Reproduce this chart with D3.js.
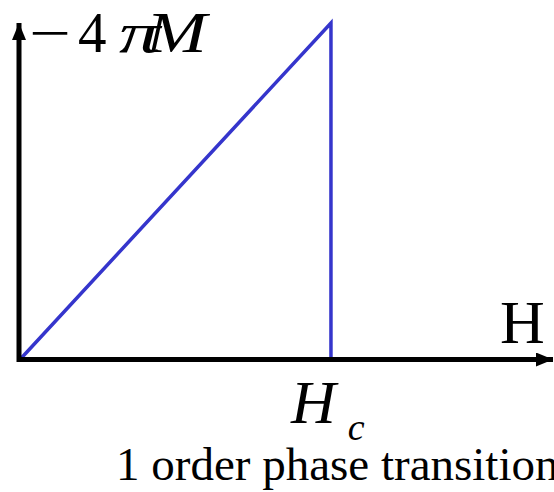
<!DOCTYPE html>
<html>
<head>
<meta charset="utf-8">
<script src="https://cdn.jsdelivr.net/npm/d3@7"></script>
<style>
  html, body { margin: 0; padding: 0; background: #fff; }
  svg { display: block; }
  text { font-family: "Liberation Serif", "Times New Roman", serif; fill: #000; }
</style>
</head>
<body>
<svg id="chart" width="554" height="492"></svg>
<script>
// Magnetisation curve of a type-I superconductor: -4πM rises linearly with H
// up to the critical field Hc, then drops to zero (first-order transition).
const fieldH = [0, 1, 1];          // H in units of Hc
const minus4piM = [0, 1, 0];       // -4πM in units of Hc
const xAxisMax = 1.714;            // axis arrow extends past Hc
const yAxisMax = 1.0;

const svg = d3.select("#chart");

const x = d3.scaleLinear().domain([0, xAxisMax]).range([20, 553]);
const y = d3.scaleLinear().domain([0, yAxisMax]).range([359.5, 23]);

// arrow markers for the two axes
const defs = svg.append("defs");
defs.append("marker")
  .attr("id", "arrow")
  .attr("viewBox", "0 0 17 14")
  .attr("refX", 17).attr("refY", 7)
  .attr("markerWidth", 17).attr("markerHeight", 14)
  .attr("markerUnits", "userSpaceOnUse")
  .attr("orient", "auto")
  .append("path")
  .attr("d", "M0,0 L17,7 L0,14 Z")
  .attr("fill", "#000");

// curve
const line = d3.line()
  .x((d, i) => x(fieldH[i]))
  .y((d, i) => y(minus4piM[i]));

svg.append("path")
  .datum(fieldH)
  .attr("d", line)
  .attr("fill", "none")
  .attr("stroke", "#3535cc")
  .attr("stroke-width", 3.5)
  .attr("stroke-linejoin", "miter");

// axes
svg.append("line")
  .attr("x1", x(0) - 1).attr("y1", y(0))
  .attr("x2", x(xAxisMax)).attr("y2", y(0))
  .attr("stroke", "#000").attr("stroke-width", 5)
  .attr("marker-end", "url(#arrow)");

svg.append("line")
  .attr("x1", x(0) - 1).attr("y1", y(0) + 2.5)
  .attr("x2", x(0) - 1).attr("y2", y(yAxisMax))
  .attr("stroke", "#000").attr("stroke-width", 5)
  .attr("marker-end", "url(#arrow)");

// y-axis label: -4πM, set glyph by glyph
const yLabelGlyphs = [
  { t: "\u2212", x: 29,  sx: 1.3, italic: false },
  { t: "4",      x: 78,  sx: 1.0, italic: false },
  { t: "\u03C0", x: 119, sx: 1.45, italic: true },
  { t: "M",      x: 146, sx: 1.28, italic: true }
];
svg.selectAll("text.ylab")
  .data(yLabelGlyphs)
  .join("text")
  .attr("class", "ylab")
  .attr("transform", d => `translate(${d.x},52) scale(${d.sx},1)`)
  .attr("font-size", 57)
  .attr("font-style", d => d.italic ? "italic" : "normal")
  .text(d => d.t);

// x-axis label: H
svg.append("text")
  .attr("x", 500).attr("y", 343)
  .attr("font-size", 62)
  .text("H");

// critical field label under the drop
const hc = svg.append("text")
  .attr("x", x(1) - 40).attr("y", 423)
  .attr("font-size", 62)
  .attr("font-style", "italic");
hc.append("tspan").text("H");
hc.append("tspan").attr("font-size", 38).attr("dx", 12).attr("dy", 17).text("c");

// caption
svg.append("text")
  .attr("x", 116).attr("y", 480)
  .attr("font-size", 47)
  .text("1 order phase transition");
</script>
</body>
</html>
